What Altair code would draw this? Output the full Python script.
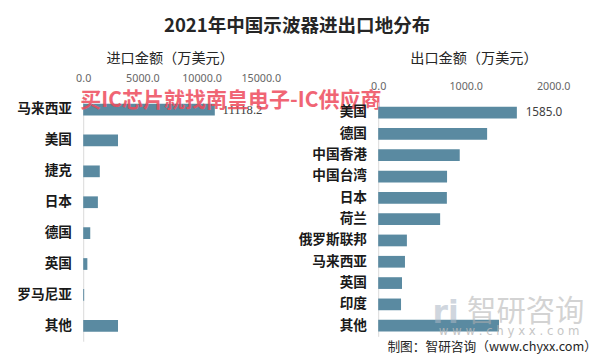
import altair as alt
import pandas as pd

# ---------------- data ----------------
imp_countries = ["马来西亚", "美国", "捷克", "日本", "德国", "英国", "罗马尼亚", "其他"]
imp_values = [11118.2, 2940, 1400, 1240, 595, 350, 80, 2940]
imp_labels = ["11118.2", "", "", "", "", "", "", ""]

exp_countries = ["美国", "德国", "中国香港", "中国台湾", "日本", "荷兰",
                 "俄罗斯联邦", "马来西亚", "英国", "印度", "其他"]
exp_values = [1585.0, 1245, 932, 787, 785, 708, 328, 306, 272, 261, 1381]
exp_labels = ["1585.0", "", "", "", "", "", "", "", "", "", ""]

imp_ticks = [0, 5000, 10000, 15000]
exp_ticks = [0, 1000, 2000]

title_text = "2021年中国示波器进出口地分布"
imp_title = "进口金额（万美元）"
exp_title = "出口金额（万美元）"
red_mark = "买IC芯片就找南皇电子-IC供应商"
source_text = "制图：智研咨询（www.chyxx.com）"

# ---------------- styles ----------------
FONT = "Noto Sans CJK SC"
BAR = "#5a8aa1"
TXT = "#262626"

imp_df = pd.DataFrame({"country": imp_countries, "value": imp_values, "label": imp_labels})
exp_df = pd.DataFrame({"country": exp_countries, "value": exp_values, "label": exp_labels})


def y_axis():
    return alt.Axis(title=None, labelFont=FONT, labelFontSize=14, labelFontWeight="bold",
                    labelColor="#1a1a1a", labelPadding=12, ticks=False, tickSize=0,
                    domainColor="#d9d9d9", domainWidth=1, grid=False)


def x_axis(vals, pad):
    return alt.Axis(orient="top", title=None, values=vals, format=".1f", labelFont="Noto Sans",
                    labelFontSize=11, labelColor="#666666", ticks=False, tickSize=0,
                    domain=False, grid=False, labelPadding=pad, labelFlush=False,
                    labelOverlap=False)


def note(text, x, y, size, color, weight="normal", align="center", opacity=1.0, font=FONT):
    return alt.Chart(pd.DataFrame({"t": [text]})).mark_text(
        align=align, baseline="middle", font=font, fontSize=size, fontWeight=weight,
        color=color, opacity=opacity
    ).encode(x=alt.value(x), y=alt.value(y), text="t:N")


# ---------------- left panel (imports) ----------------
yl = alt.Y("country:N", sort=imp_countries,
           scale=alt.Scale(paddingInner=0, paddingOuter=0), axis=y_axis())
xl = alt.X("value:Q", scale=alt.Scale(domain=[0, 17000], nice=False, zero=True),
           axis=x_axis(imp_ticks, 11))

left_base = alt.Chart(imp_df)
left = alt.layer(
    left_base.mark_bar(size=12, color=BAR).encode(x=xl, y=yl),
    left_base.mark_text(align="left", dx=8, dy=1, font="Liberation Serif", fontSize=13,
                        color="#404040").encode(x=xl, y=yl, text="label:N"),
    note(title_text, 219, -70, 19, TXT, weight="bold"),
    note(imp_title, 89, -36, 14.5, TXT),
    note(red_mark, -3, 7, 21.5, "#ee4b5c", weight="bold", align="left", opacity=0.85),
).properties(width=206, height=253)

# ---------------- right panel (exports) ----------------
yr = alt.Y("country:N", sort=exp_countries,
           scale=alt.Scale(range=[8, 248], paddingInner=0, paddingOuter=0), axis=y_axis())
xr = alt.X("value:Q", scale=alt.Scale(domain=[0, 2300], nice=False, zero=True),
           axis=x_axis(exp_ticks, 3))

right_base = alt.Chart(exp_df)
right = alt.layer(
    right_base.mark_bar(size=12, color=BAR).encode(x=xr, y=yr),
    right_base.mark_text(align="left", dx=9, font="Noto Sans", fontSize=12,
                         color="#404040").encode(x=xr, y=yr, text="label:N"),
    note(exp_title, 98, -36, 14.5, TXT),
    note("ri", 69, 224, 32, "#aab6c4", weight="bold", opacity=0.55, font="DejaVu Sans"),
    note("智研咨询", 151, 223, 30, "#b0b0b0", opacity=0.55),
    note("w w w . c h y x x . c o m", 134, 243, 12, "#b8b8b8", opacity=0.8, font="DejaVu Sans"),
    note(source_text, 224, 259, 13, TXT, align="right"),
).properties(width=206, height=248)

chart = alt.hconcat(left, right, spacing=96, bounds="flush").properties(
    padding={"left": 9, "top": 5, "right": 0, "bottom": 0},
    background="white",
).configure_view(stroke=None)

chart.save("out.html", embed_options={"renderer": "svg", "actions": False})
